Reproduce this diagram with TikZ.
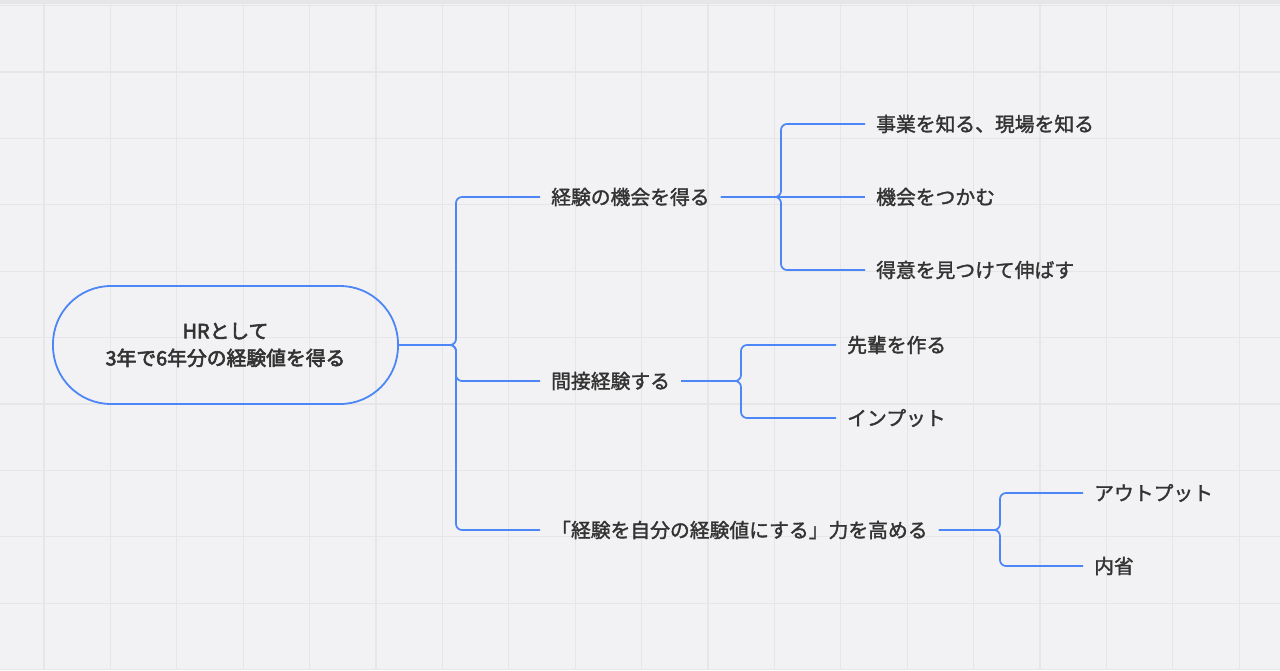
\documentclass[tikz,border=0pt]{standalone}
\usepackage{fontspec}
\newfontfamily\jpm{Noto Sans CJK JP}[FakeBold=1.6]
\newfontfamily\jpb{Noto Sans CJK JP}[FakeBold=3]
\definecolor{bg}{HTML}{F2F2F4}
\definecolor{gridc}{HTML}{E6E6E8}
\definecolor{blu}{HTML}{4D86F6}
\definecolor{txt}{HTML}{333333}
\begin{document}
\begin{tikzpicture}[x=1pt,y=-1pt,
  branch/.style={draw=blu, line width=1.7pt, rounded corners=6pt},
  lbl/.style={font=\jpm\fontsize{19.8}{23}\selectfont, text=txt, inner xsep=11pt, inner ysep=3pt, anchor=west},
  rootbox/.style={draw=blu, line width=1.8pt, rounded corners=58pt, minimum width=345pt, minimum height=118pt, align=center, font=\jpb\fontsize{19.8}{27}\selectfont, text=txt}]
\fill[bg] (0,0) rectangle (1280,670);
\useasboundingbox (0,0) rectangle (1280,670);
\foreach \i in {0,...,18} \draw[gridc, line width=1.3pt] ({44+66.4*\i},0) -- ({44+66.4*\i},670);
\foreach \j in {0,...,10} \draw[gridc, line width=1.3pt] (0,{5.6+66.4*\j}) -- (1280,{5.6+66.4*\j});
\draw[gridc, line width=4pt] (0,2) -- (1280,2);

\node[rootbox] (root) at (225.5,345) {HRとして\\3年で6年分の経験値を得る};

\node[lbl] (a) at (540,197) {経験の機会を得る};
\node[lbl] (b) at (540,381) {間接経験する};
\node[lbl] (c) at (540,530) {「経験を自分の経験値にする」力を高める};
\node[lbl] (a1) at (865,124) {事業を知る、現場を知る};
\node[lbl] (a2) at (865,197) {機会をつかむ};
\node[lbl] (a3) at (865,270) {得意を見つけて伸ばす};
\node[lbl] (b1) at (836,345) {先輩を作る};
\node[lbl] (b2) at (836,418) {インプット};
\node[lbl] (c1) at (1083,493) {アウトプット};
\node[lbl] (c2) at (1083,566) {内省};

\draw[branch] (root.east) -- (456,345) |- (a.west);
\draw[branch] (root.east) -- (456,345) |- (b.west);
\draw[branch] (root.east) -- (456,345) |- (c.west);

\draw[branch] (a.east) -- (781,197) |- (a1.west);
\draw[branch] (a.east) -- (a2.west);
\draw[branch] (a.east) -- (781,197) |- (a3.west);

\draw[branch] (b.east) -- (741,381) |- (b1.west);
\draw[branch] (b.east) -- (741,381) |- (b2.west);

\draw[branch] (c.east) -- (1000,530) |- (c1.west);
\draw[branch] (c.east) -- (1000,530) |- (c2.west);
\end{tikzpicture}
\end{document}
